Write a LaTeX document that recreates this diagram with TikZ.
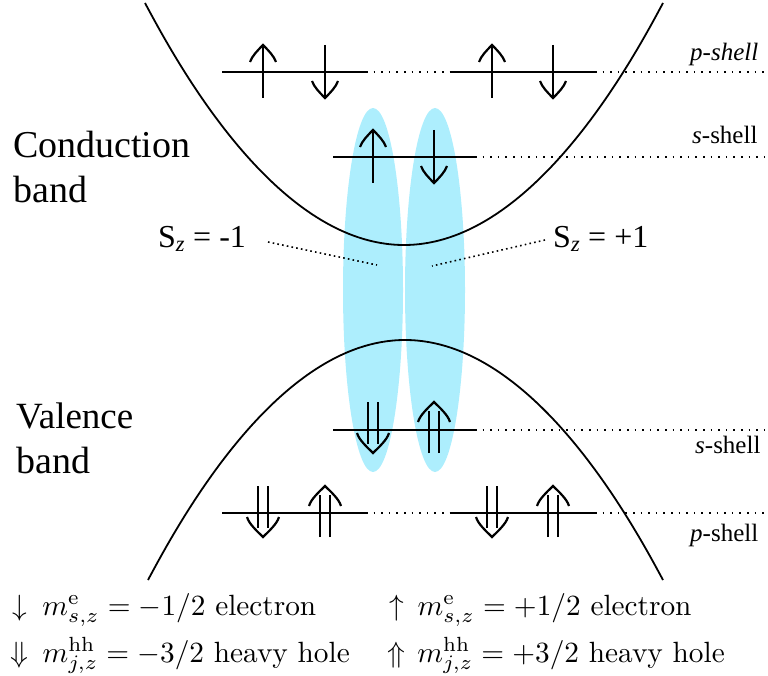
\documentclass[tikz,border=0pt]{standalone}
\usepackage[no-math]{fontspec}
\newfontfamily\timesfont{Liberation Serif}
\definecolor{exciton}{RGB}{173,238,253}
\tikzset{
  lvl/.style={line width=2pt},
  dots/.style={line width=1.6pt, dash pattern=on 1.6pt off 6pt},
  band/.style={line width=1.8pt},
  arr/.style={line width=2.2pt},
  txt/.style={inner sep=0pt, anchor=base west},
  leg/.style={inner sep=0pt, anchor=base west, scale=2.93},
  upone/.pic={
    \draw[arr] (0,26) -- (0,-26);
    \draw[arr, line join=miter, miter limit=20] (-13,-10) .. controls (-11,-16) and (-5,-22) .. (0,-27) .. controls (5,-22) and (11,-16) .. (13,-10);
  },
  downone/.pic={
    \draw[arr] (0,-27) -- (0,25);
    \draw[arr, line join=miter, miter limit=20] (-13,9) .. controls (-11,15) and (-5,21) .. (0,26) .. controls (5,21) and (11,15) .. (13,9);
  },
  uptwo/.pic={
    \draw[arr] (-5,24) -- (-5,-18) (5,24) -- (5,-18);
    \draw[arr, line join=miter, miter limit=20] (-16,-7) .. controls (-14,-14) and (-6,-21) .. (0,-27) .. controls (6,-21) and (14,-14) .. (16,-7);
  },
  downtwo/.pic={
    \draw[arr] (-5,-27) -- (-5,15) (5,-27) -- (5,15);
    \draw[arr, line join=miter, miter limit=20] (-16,4) .. controls (-14,11) and (-6,18) .. (0,24) .. controls (6,18) and (14,11) .. (16,4);
  },
}
\begin{document}
\begin{tikzpicture}[x=1pt,y=-1pt]
\useasboundingbox (0,0) rectangle (768,676);
% exciton ellipses
\fill[exciton] (373,290) ellipse [x radius=30, y radius=182];
\fill[exciton] (435,290) ellipse [x radius=30, y radius=182];
% bands
\draw[band] (145,3) parabola bend (404,245) (663,3);
\draw[band] (148,580) parabola bend (405,340) (663,580);
% top p-shell
\draw[lvl] (222,72) -- (366,72);
\draw[lvl] (451,72) -- (595,72);
\draw[dots] (366,72) -- (451,72);
\draw[dots] (595,72) -- (768,72);
\pic at (263,72) {upone};
\pic at (325,72) {downone};
\pic at (492,72) {upone};
\pic at (553,72) {downone};
% conduction s-shell
\draw[lvl] (333,157) -- (475,157);
\draw[dots] (475,157) -- (768,157);
\pic at (373,157) {upone};
\pic at (434,157) {downone};
% valence s-shell
\draw[lvl] (333,430) -- (475,430);
\draw[dots] (475,430) -- (768,430);
\pic at (373,429) {downtwo};
\pic at (434,429) {uptwo};
% valence p-shell
\draw[lvl] (222,513) -- (366,513);
\draw[lvl] (451,513) -- (595,513);
\draw[dots] (366,513) -- (451,513);
\draw[dots] (595,513) -- (768,513);
\pic at (263,513) {downtwo};
\pic at (325,513) {uptwo};
\pic at (492,513) {downtwo};
\pic at (553,513) {uptwo};
% shell labels
\node[txt] (pt) at (690,61) {\timesfont\fontsize{25}{30}\selectfont\itshape p-shell};
\node[txt] (st) at (692,144) {\timesfont\fontsize{25}{30}\selectfont\textit{s}-shell};
\node[txt] (sb) at (695,453) {\timesfont\fontsize{25}{30}\selectfont\textit{s}-shell};
\node[txt] (pb) at (690,541) {\timesfont\fontsize{25}{30}\selectfont\textit{p}-shell};
% band labels
\node[txt] (cb1) at (13,158) {\timesfont\fontsize{38}{45}\selectfont Conduction};
\node[txt] (cb2) at (13,203) {\timesfont\fontsize{38}{45}\selectfont band};
\node[txt] (vb1) at (16,428) {\timesfont\fontsize{37}{45}\selectfont Valence};
\node[txt] (vb2) at (16,473) {\timesfont\fontsize{38}{45}\selectfont band};
% Sz labels
\node[txt] (szm) at (158,248) {\timesfont\fontsize{32}{38}\selectfont S\textsubscript{\itshape z} = -1};
\node[txt] (szp) at (553,248) {\timesfont\fontsize{32}{38}\selectfont S\textsubscript{\itshape z} = +1};
\coordinate (lfrom) at (268,242);
\coordinate (lto) at (377,265);
\coordinate (rfrom) at (545,240);
\coordinate (rto) at (432,266);
\draw[dots, dash pattern=on 1.6pt off 3.2pt] (lfrom) -- (lto);
\draw[dots, dash pattern=on 1.6pt off 3.2pt] (rfrom) -- (rto);
% legend
\node[leg] (t1) at (12,615) {\makebox[10.2pt][l]{$\downarrow$}$m^{\mathrm{e}}_{s,z}=-1/2$ electron};
\node[leg] (t2) at (389,615) {\makebox[9.6pt][l]{$\uparrow$}$m^{\mathrm{e}}_{s,z}=+1/2$ electron};
\node[leg] (t3) at (10,662) {\makebox[10.9pt][l]{$\Downarrow$}$m^{\mathrm{hh}}_{j,z}=-3/2$ heavy hole};
\node[leg] (t4) at (387,662) {\makebox[10.2pt][l]{$\Uparrow$}$m^{\mathrm{hh}}_{j,z}=+3/2$ heavy hole};
\end{tikzpicture}
\end{document}
